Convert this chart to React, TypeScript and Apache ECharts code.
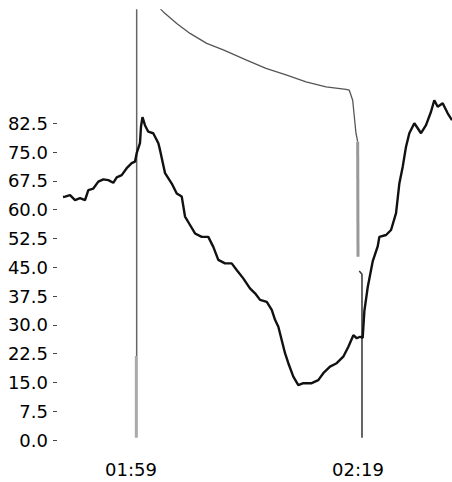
import React, { useEffect, useRef } from "react";
import * as echarts from "echarts";

// x values are minutes since 00:00
const xTickMinutes = [119, 139];
const yTickValues = [0, 7.5, 15, 22.5, 30, 37.5, 45, 52.5, 60, 67.5, 75, 82.5];

const traceMinutes = [
  113.01, 113.19, 113.63, 114.07, 114.51, 114.95, 115.24, 115.68, 116.12, 116.56,
  117.0, 117.44, 117.74, 118.18, 118.62, 119.06, 119.35, 119.5, 119.79, 119.88,
  120.01, 120.23, 120.52, 120.96, 121.41, 121.56, 122.0, 122.59, 123.03, 123.47,
  123.76, 124.2, 124.64, 125.23, 125.81, 126.25, 126.69, 127.28, 127.87, 128.31,
  128.89, 129.48, 129.93, 130.37, 130.96, 131.4, 131.69, 131.98, 132.28, 132.57,
  132.86, 133.3, 133.74, 134.18, 134.92, 135.5, 135.94, 136.53, 137.12, 137.7,
  138.15, 138.59, 138.89, 139.18, 139.41, 139.56, 139.85, 140.3, 140.74, 140.88,
  141.47, 141.91, 142.35, 142.64, 142.94, 143.23, 143.52, 143.96, 144.26, 144.55,
  144.99, 145.43, 145.72, 146.02, 146.46, 146.9, 147.28,
];
const traceValues = [
  63.3, 63.4, 63.8, 62.5, 63.0, 62.5, 65.1, 65.5, 67.3, 67.9,
  67.7, 67.0, 68.4, 69.0, 70.8, 72.1, 72.5, 74.7, 77.3, 81.6,
  84.1, 82.0, 80.3, 79.9, 77.3, 75.5, 69.5, 66.8, 64.2, 63.4,
  58.2, 56.0, 53.8, 52.9, 52.9, 50.3, 46.9, 46.0, 46.0, 44.3,
  42.1, 39.5, 38.2, 36.5, 36.0, 33.9, 31.3, 29.5, 26.0, 22.6,
  20.0, 16.5, 14.3, 14.8, 14.8, 15.6, 17.4, 19.1, 20.0, 21.7,
  24.3, 27.3, 26.5, 26.9, 26.6, 33.6, 39.7, 46.6, 50.5, 52.9,
  53.4, 54.7, 59.1, 66.8, 71.2, 76.4, 79.9, 82.5, 81.2, 79.9,
  82.0, 85.5, 88.5, 86.8, 87.7, 85.1, 83.3,
];

const curveMinutes = [120.67, 121.85, 123.03, 124.2, 125.67, 127.13, 129.13, 130.89, 132.66, 134.42, 136.18, 137.94, 138.23, 138.53, 138.82, 138.97];
const curveValues = [115.1, 111.5, 108.5, 105.9, 103.3, 101.6, 99.0, 96.8, 95.1, 93.3, 92.0, 91.3, 91.1, 88.5, 79.9, 77.7];

const dropMinutes = [138.97, 139.0];
const dropValues = [77.7, 47.7];

const markerBMinutes = [139.11, 139.35, 139.35];
const markerBValues = [44.0, 43.2, 0.6];

const markerAUpperMinutes = [119.5, 119.5];
const markerAUpperValues = [21.9, 115];
const markerALowerMinutes = [119.47, 119.47];
const markerALowerValues = [0.6, 21.9];

const zip = (xs: number[], ys: number[]) => xs.map((x, i) => [x, ys[i]]);

const fmtTime = (m: number) => {
  const h = Math.floor(m / 60);
  const mm = Math.round(m - h * 60);
  return String(h).padStart(2, "0") + ":" + String(mm).padStart(2, "0");
};

const lineSeries = (data: number[][], color: string, width: number) => ({
  type: "line",
  data,
  showSymbol: false,
  symbol: "none",
  clip: true,
  lineStyle: { color, width },
  emphasis: { disabled: true },
  silent: true,
});

export default function App() {
  const ref = useRef<HTMLDivElement>(null);
  useEffect(() => {
    if (!ref.current) return;
    const chart = echarts.init(ref.current, null, { renderer: "svg" });
    chart.setOption({
      animation: false,
      backgroundColor: "#ffffff",
      grid: { left: 57, right: 0, top: 10, bottom: 42, containLabel: false },
      xAxis: {
        type: "value",
        min: 112.48,
        max: 147.28,
        axisLine: { show: false },
        axisTick: { show: false },
        splitLine: { show: false },
        axisLabel: {
          customValues: xTickMinutes,
          formatter: (v: number) => fmtTime(v),
          fontFamily: "DejaVu Sans",
          fontSize: 18,
          color: "#000",
          margin: 20,
        },
      },
      yAxis: {
        type: "value",
        min: 0,
        max: 112,
        interval: 7.5,
        axisLine: { show: false },
        splitLine: { show: false },
        axisTick: {
          show: true,
          length: 4,
          customValues: yTickValues,
          lineStyle: { color: "#444", width: 1 },
        },
        axisLabel: {
          customValues: yTickValues,
          formatter: (v: number) => (v > 82.5 ? "" : v.toFixed(1)),
          fontFamily: "DejaVu Sans",
          fontSize: 18,
          color: "#000",
          margin: 9,
        },
      },
      series: [
        lineSeries(zip(markerALowerMinutes, markerALowerValues), "#aaaaaa", 3),
        lineSeries(zip(markerAUpperMinutes, markerAUpperValues), "#666666", 1.5),
        lineSeries(zip(curveMinutes, curveValues), "#555555", 1.3),
        lineSeries(zip(dropMinutes, dropValues), "#999999", 3),
        lineSeries(zip(markerBMinutes, markerBValues), "#333333", 1.5),
        lineSeries(zip(traceMinutes, traceValues), "#111111", 2.4),
      ],
    });
    return () => chart.dispose();
  }, []);
  return (
    <div
      ref={ref}
      style={{ position: "fixed", left: 0, top: 0, width: 452, height: 482, background: "#fff" }}
    />
  );
}
